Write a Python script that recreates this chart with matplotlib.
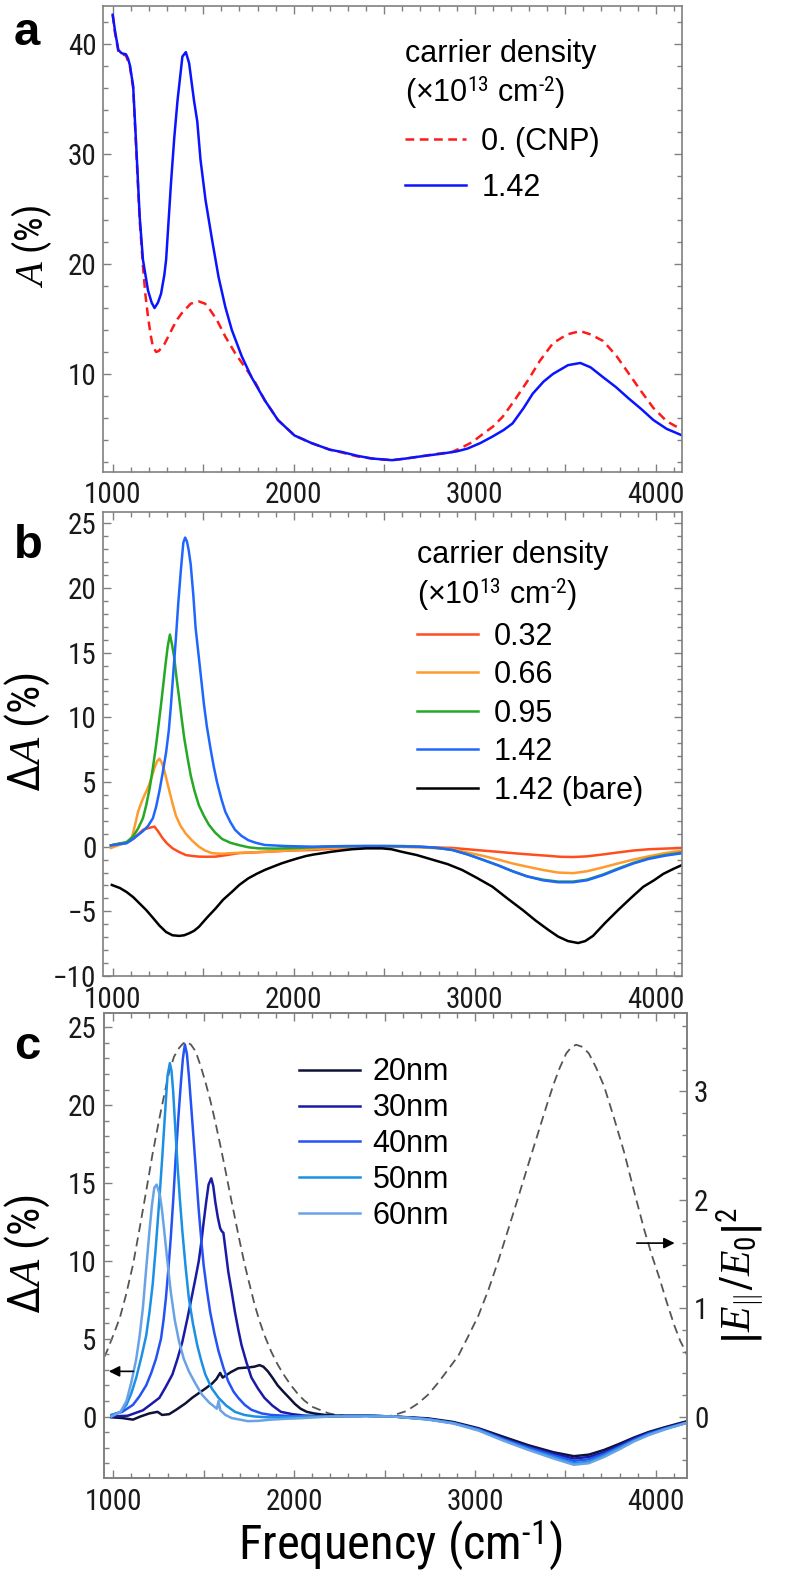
import matplotlib
matplotlib.use("Agg")
import matplotlib.pyplot as plt
from matplotlib import font_manager
from matplotlib.ticker import MultipleLocator, FuncFormatter

# pick a narrow sans for the axes text if one is installed
NARROW = None
for pref in ['Liberation Sans Narrow', 'Arial Narrow', 'Noto Sans Condensed', 'Roboto Condensed',
             'Open Sans Condensed']:
    if any(f.name == pref for f in font_manager.fontManager.ttflist):
        NARROW = pref
        break
if NARROW is None:
    for f in font_manager.fontManager.ttflist:
        if f.stretch == 'condensed' and f.style == 'normal' and 'Sans' in f.name:
            NARROW = f.name
            plt.rcParams['font.stretch'] = 'condensed'
            break

AX_FONT = [NARROW, 'Liberation Sans', 'DejaVu Sans'] if NARROW else ['Liberation Sans', 'DejaVu Sans']
K = 1.0 if NARROW else 0.84   # shrink sizes when only a regular-width font is available

plt.rcParams['font.family'] = AX_FONT
plt.rcParams['mathtext.fontset'] = 'custom'
plt.rcParams['mathtext.rm'] = AX_FONT[0]
plt.rcParams['mathtext.it'] = 'Liberation Serif:italic'

FRAME = '#808080'
TXT = '#1a1a1a'
LEG_FONT = ['Liberation Sans', 'DejaVu Sans']

# ---------------- panel a: absorption A (%) ----------------
a_freq_cnp = [1000, 1013, 1031, 1049, 1073, 1095, 1113, 1131, 1149, 1167, 1180, 1195, 1210, 1222,
              1240, 1255, 1285, 1310, 1331, 1358, 1385, 1431, 1476, 1510, 1531, 1576, 1622, 1676,
              1731, 1785, 1840, 1913, 2004, 2099, 2200, 2265, 2350, 2432, 2543, 2620, 2682, 2780,
              2876, 2940, 2987, 3050, 3100, 3154, 3220, 3293, 3360, 3432, 3510, 3583, 3640, 3709,
              3780, 3848, 3920, 3987, 4060, 4146]
a_cnp = [42.7, 41.0, 39.4, 39.1, 39.0, 38.0, 36.0, 30.0, 24.0, 19.8, 17.3, 15.2, 13.5, 12.5,
         12.0, 12.1, 12.7, 13.5, 14.2, 15.0, 15.6, 16.4, 16.6, 16.4, 16.0, 14.9, 13.4, 11.9,
         10.6, 9.3, 7.6, 5.8, 4.4, 3.7, 3.1, 2.85, 2.5, 2.3, 2.15, 2.3, 2.45, 2.7,
         2.9, 3.4, 3.8, 4.6, 5.2, 6.1, 7.6, 9.4, 11.2, 12.8, 13.6, 13.9, 13.6, 13.0,
         11.7, 10.1, 8.4, 6.9, 5.7, 4.9]

a_freq_142 = [1000, 1013, 1031, 1049, 1073, 1085, 1095, 1113, 1131, 1149, 1167, 1195, 1215, 1231,
              1250, 1267, 1285, 1295, 1322, 1340, 1358, 1385, 1404, 1422, 1449, 1467, 1485, 1513,
              1549, 1585, 1622, 1658, 1713, 1767, 1840, 1913, 2004, 2099, 2200, 2265, 2350, 2432,
              2543, 2620, 2682, 2821, 2900, 2959, 3030, 3098, 3160, 3209, 3270, 3320, 3380, 3432,
              3515, 3583, 3640, 3709, 3780, 3848, 3920, 3987, 4060, 4146]
a_142 = [42.7, 41.2, 39.5, 39.2, 39.1, 38.7, 38.1, 36.2, 30.4, 24.3, 20.4, 17.6, 16.5, 16.0,
         16.5, 17.3, 19.0, 20.4, 27.4, 31.5, 34.9, 38.9, 39.3, 38.3, 34.9, 33.0, 29.5, 25.8,
         22.2, 18.8, 16.1, 14.0, 11.6, 9.7, 7.6, 5.8, 4.4, 3.7, 3.1, 2.9, 2.55, 2.3,
         2.15, 2.3, 2.45, 2.75, 2.95, 3.2, 3.7, 4.3, 4.9, 5.5, 6.9, 8.2, 9.3, 10.0,
         10.8, 11.0, 10.6, 9.7, 8.8, 7.8, 6.8, 5.8, 5.0, 4.4]

# ---------------- panel b: delta A for carrier densities ----------------
b_labels = ['0.32', '0.66', '0.95', '1.42', '1.42 (bare)']
b_colors = ['#ff4d1f', '#ff9a2e', '#25a825', '#1f66ff', '#000000']

b_freq_032 = [990, 1040, 1076, 1113, 1140, 1167, 1200, 1231, 1250, 1276, 1300, 1331, 1365, 1404,
              1440, 1476, 1520, 1567, 1630, 1695, 1770, 1840, 1980, 2113, 2250, 2400, 2600, 2760,
              2876, 2960, 3042, 3130, 3209, 3300, 3400, 3470, 3543, 3620, 3709, 3790, 3876, 3960,
              4050, 4148]
b_032 = [0.1, 0.25, 0.3, 0.6, 0.95, 1.3, 1.45, 1.55, 1.2, 0.65, 0.25, -0.13, -0.4, -0.65,
         -0.72, -0.77, -0.78, -0.77, -0.65, -0.5, -0.45, -0.4, -0.3, -0.25, -0.12, -0.05, 0.0, -0.05,
         -0.1, -0.2, -0.3, -0.4, -0.5, -0.6, -0.7, -0.78, -0.8, -0.75, -0.6, -0.45, -0.3, -0.2,
         -0.15, -0.1]

b_freq_066 = [990, 1040, 1076, 1104, 1122, 1140, 1158, 1176, 1190, 1204, 1218, 1231, 1245, 1258,
              1271, 1285, 1299, 1313, 1331, 1349, 1375, 1404, 1440, 1476, 1510, 1549, 1600, 1658,
              1750, 1840, 1930, 2022, 2113, 2204, 2350, 2500, 2700, 2876, 2960, 3042, 3130, 3209,
              3290, 3376, 3460, 3543, 3620, 3709, 3790, 3876, 3960, 4050, 4148]
b_066 = [-0.1, 0.15, 0.3, 0.6, 1.6, 2.7, 3.4, 4.0, 4.4, 4.9, 5.5, 6.1, 6.6, 6.8,
         6.5, 5.9, 5.1, 4.3, 3.3, 2.4, 1.6, 1.0, 0.45, 0.0, -0.3, -0.5, -0.55, -0.5,
         -0.45, -0.4, -0.33, -0.25, -0.18, -0.1, -0.03, 0.0, -0.05, -0.2, -0.45, -0.7, -1.0, -1.3,
         -1.55, -1.8, -2.0, -2.05, -1.9, -1.6, -1.3, -1.0, -0.75, -0.5, -0.3]

b_freq_095 = [990, 1040, 1076, 1113, 1140, 1167, 1185, 1204, 1222, 1240, 1255, 1267, 1280, 1291,
              1304, 1316, 1328, 1340, 1353, 1367, 1381, 1395, 1413, 1431, 1452, 1476, 1503, 1531,
              1565, 1604, 1650, 1695, 1750, 1804, 1900, 2022, 2200, 2400, 2600, 2760, 2876, 2960,
              3042, 3130, 3209, 3290, 3376, 3460, 3543, 3620, 3709, 3790, 3876, 3960, 4050, 4148]
b_095 = [0.1, 0.25, 0.35, 0.8, 1.4, 2.2, 3.2, 4.5, 6.1, 7.9, 9.6, 11.0, 12.6, 14.0,
         15.5, 16.4, 15.6, 14.6, 13.0, 11.5, 9.9, 8.4, 6.9, 5.5, 4.3, 3.2, 2.4, 1.7,
         1.1, 0.6, 0.3, 0.13, -0.05, -0.13, -0.15, -0.1, 0.0, 0.05, 0.05, -0.05, -0.25, -0.6,
         -1.0, -1.45, -1.9, -2.3, -2.55, -2.7, -2.7, -2.55, -2.15, -1.7, -1.25, -0.9, -0.65, -0.45]

b_freq_142 = [990, 1040, 1076, 1113, 1140, 1167, 1195, 1222, 1240, 1258, 1276, 1295, 1310, 1322,
              1335, 1349, 1362, 1376, 1390, 1400, 1410, 1420, 1431, 1445, 1458, 1476, 1490, 1504,
              1520, 1540, 1558, 1576, 1600, 1622, 1650, 1676, 1710, 1749, 1790, 1840, 1950, 2100,
              2300, 2500, 2700, 2800, 2876, 2960, 3042, 3130, 3209, 3290, 3376, 3460, 3543, 3620,
              3709, 3790, 3876, 3960, 4050, 4148]
b_142 = [0.1, 0.2, 0.26, 0.6, 0.9, 1.2, 1.6, 2.2, 3.1, 4.3, 5.7, 7.3, 9.0, 11.0,
         13.5, 16.1, 18.8, 21.3, 23.5, 23.9, 23.6, 22.9, 21.8, 19.5, 16.9, 14.6, 12.8, 11.0,
         9.3, 7.6, 6.2, 5.0, 3.7, 2.7, 1.9, 1.3, 0.85, 0.5, 0.3, 0.13, 0.05, 0.0,
         0.05, 0.05, 0.0, -0.1, -0.26, -0.6, -1.0, -1.45, -1.9, -2.3, -2.6, -2.75, -2.75, -2.6,
         -2.2, -1.75, -1.3, -0.95, -0.7, -0.5]

b_freq_bare = [995, 1040, 1076, 1113, 1149, 1185, 1222, 1258, 1295, 1330, 1367, 1395, 1422, 1450,
               1476, 1520, 1567, 1610, 1658, 1700, 1749, 1795, 1840, 1885, 1931, 1975, 2022, 2068,
               2113, 2160, 2204, 2260, 2321, 2400, 2487, 2540, 2598, 2680, 2765, 2850, 2930, 3010,
               3098, 3180, 3265, 3335, 3403, 3460, 3515, 3571, 3610, 3653, 3720, 3792, 3860, 3931,
               3990, 4042, 4100, 4148]
b_bare = [-2.96, -3.2, -3.5, -3.9, -4.4, -4.9, -5.5, -6.1, -6.6, -6.85, -6.9, -6.85, -6.7, -6.5,
          -6.2, -5.5, -4.8, -4.1, -3.5, -2.95, -2.45, -2.1, -1.8, -1.55, -1.3, -1.1, -0.9, -0.72,
          -0.6, -0.5, -0.4, -0.3, -0.2, -0.13, -0.13, -0.2, -0.4, -0.65, -1.0, -1.35, -1.8, -2.4,
          -3.1, -4.0, -4.9, -5.7, -6.4, -6.95, -7.3, -7.45, -7.3, -6.9, -5.9, -4.9, -4.0, -3.1,
          -2.6, -2.1, -1.7, -1.4]

# ---------------- panel c: delta A for ribbon widths + field enhancement ----------------
c_labels = ['20nm', '30nm', '40nm', '50nm', '60nm']
c_colors = ['#0e1236', '#1a1aa6', '#2452f5', '#1c90e3', '#6aa2e6']

c_freq_20 = [990, 1050, 1109, 1150, 1200, 1245, 1270, 1309, 1350, 1400, 1436, 1473, 1510, 1545,
             1570, 1591, 1605, 1618, 1650, 1691, 1745, 1780, 1809, 1830, 1855, 1880, 1909, 1940,
             1973, 2005, 2036, 2070, 2109, 2170, 2236, 2400, 2550, 2741, 2880, 3019, 3157, 3297,
             3436, 3547, 3630, 3714, 3800, 3880, 3960, 4047, 4173]
c_20 = [-0.05, -0.1, -0.2, 0.0, 0.2, 0.3, 0.1, 0.15, 0.45, 0.85, 1.2, 1.5, 1.8, 2.1,
        2.4, 2.8, 2.5, 2.6, 2.85, 3.1, 3.15, 3.2, 3.3, 3.2, 2.9, 2.5, 2.0, 1.6,
        1.2, 0.8, 0.5, 0.3, 0.2, 0.1, 0.06, 0.05, 0.0, -0.12, -0.35, -0.75, -1.3, -1.85,
        -2.3, -2.55, -2.45, -2.15, -1.75, -1.35, -1.0, -0.7, -0.3]

c_freq_30 = [990, 1080, 1164, 1210, 1255, 1290, 1327, 1355, 1382, 1410, 1436, 1455, 1473, 1487,
             1500, 1514, 1527, 1542, 1553, 1564, 1578, 1591, 1600, 1609, 1622, 1636, 1655, 1673,
             1691, 1709, 1736, 1764, 1800, 1836, 1880, 1927, 1990, 2055, 2200, 2400, 2550, 2741,
             2880, 3019, 3157, 3297, 3436, 3547, 3630, 3714, 3800, 3880, 3960, 4047, 4173]
c_30 = [0.0, 0.05, 0.4, 0.8, 1.2, 1.9, 2.7, 3.7, 4.8, 6.3, 7.8, 8.9, 10.0, 11.2,
        12.5, 13.8, 14.9, 15.3, 14.8, 13.8, 12.8, 12.1, 11.9, 11.8, 10.6, 9.3, 8.0, 6.7,
        5.6, 4.6, 3.5, 2.5, 1.8, 1.2, 0.7, 0.3, 0.15, 0.06, 0.0, 0.05, 0.0, -0.15,
        -0.4, -0.8, -1.4, -1.95, -2.4, -2.7, -2.6, -2.3, -1.85, -1.4, -1.05, -0.75, -0.35]

c_freq_40 = [990, 1050, 1109, 1145, 1182, 1210, 1236, 1264, 1278, 1291, 1305, 1318, 1332, 1345,
             1360, 1373, 1385, 1396, 1407, 1418, 1431, 1445, 1460, 1473, 1487, 1500, 1518, 1536,
             1560, 1582, 1610, 1636, 1665, 1691, 1727, 1764, 1820, 1873, 2018, 2200, 2400, 2550,
             2741, 2880, 3019, 3157, 3297, 3436, 3547, 3630, 3714, 3800, 3880, 3960, 4047, 4173]
c_40 = [0.1, 0.3, 0.75, 1.3, 2.0, 2.8, 3.7, 5.0, 6.2, 7.6, 9.5, 11.5, 14.0, 16.6,
        19.2, 21.3, 23.0, 23.9, 23.3, 21.9, 19.9, 17.7, 15.3, 13.2, 11.3, 9.7, 8.1, 6.7,
        5.3, 4.2, 3.1, 2.25, 1.6, 1.2, 0.75, 0.43, 0.2, 0.1, 0.0, 0.0, 0.05, 0.0,
        -0.18, -0.42, -0.82, -1.45, -2.0, -2.5, -2.85, -2.75, -2.4, -1.95, -1.5, -1.1, -0.8, -0.4]

c_freq_50 = [990, 1040, 1073, 1100, 1127, 1155, 1182, 1200, 1218, 1236, 1255, 1270, 1282, 1292,
             1300, 1313, 1322, 1331, 1343, 1355, 1368, 1382, 1400, 1418, 1440, 1464, 1486, 1509,
             1545, 1582, 1625, 1673, 1725, 1782, 1850, 1909, 2050, 2200, 2400, 2550, 2741, 2880,
             3019, 3157, 3297, 3436, 3547, 3630, 3714, 3800, 3880, 3960, 4047, 4173]
c_50 = [0.1, 0.3, 0.75, 1.5, 2.5, 3.8, 5.2, 6.7, 8.5, 11.0, 14.0, 16.5, 18.7, 20.5,
        21.9, 22.7, 22.2, 20.9, 18.5, 16.2, 14.0, 11.9, 9.6, 7.6, 6.0, 4.6, 3.6, 2.7,
        1.8, 1.2, 0.7, 0.3, 0.1, 0.0, -0.05, -0.05, 0.0, 0.0, 0.05, 0.0, -0.18, -0.42,
        -0.85, -1.5, -2.1, -2.6, -3.0, -2.9, -2.5, -2.0, -1.55, -1.15, -0.8, -0.4]

c_freq_60 = [990, 1040, 1073, 1100, 1127, 1146, 1164, 1182, 1200, 1214, 1227, 1240, 1258, 1270,
             1282, 1300, 1318, 1340, 1364, 1390, 1418, 1455, 1491, 1530, 1573, 1582, 1592, 1620,
             1655, 1700, 1745, 1800, 1873, 1950, 2050, 2200, 2400, 2550, 2741, 2880, 3019, 3157,
             3297, 3436, 3547, 3630, 3714, 3800, 3880, 3960, 4047, 4173]
c_60 = [0.0, 0.3, 1.0, 2.2, 3.7, 5.2, 7.0, 9.5, 11.9, 13.6, 14.7, 14.9, 14.2, 13.2,
        11.9, 9.9, 8.0, 6.2, 4.8, 3.7, 2.9, 2.1, 1.4, 0.9, 0.5, 1.0, 0.4, 0.1,
        -0.1, -0.2, -0.3, -0.28, -0.2, -0.15, -0.1, 0.0, 0.0, 0.0, -0.2, -0.45, -0.9, -1.55,
        -2.15, -2.7, -3.1, -3.0, -2.6, -2.1, -1.6, -1.2, -0.85, -0.4]

# |E_par/E0|^2 (right axis)
c_freq_field = [950, 964, 1000, 1036, 1070, 1109, 1145, 1182, 1218, 1255, 1282, 1309, 1336, 1364,
                1385, 1404, 1430, 1455, 1482, 1509, 1536, 1564, 1591, 1618, 1645, 1673, 1700, 1727,
                1755, 1782, 1809, 1836, 1873, 1909, 1945, 1982, 2020, 2055, 2100, 2145, 2190, 2236,
                2300, 2345, 2400, 2450, 2500, 2546, 2620, 2685, 2740, 2796, 2850, 2908, 2960, 3019,
                3075, 3130, 3185, 3241, 3296, 3352, 3395, 3436, 3470, 3505, 3535, 3560, 3595, 3630,
                3670, 3714, 3770, 3825, 3880, 3937, 3980, 4020, 4060, 4103, 4135, 4159, 4173]
c_field = [0.55, 0.6, 0.75, 0.91, 1.12, 1.4, 1.73, 2.08, 2.43, 2.75, 2.97, 3.18, 3.32, 3.40,
           3.44, 3.46, 3.43, 3.37, 3.24, 3.09, 2.92, 2.72, 2.51, 2.29, 2.06, 1.83, 1.61, 1.40,
           1.21, 1.03, 0.88, 0.75, 0.6, 0.48, 0.38, 0.29, 0.21, 0.15, 0.09, 0.06, 0.03, 0.015,
           0.003, 0.0, 0.0, 0.0, 0.0, 0.01, 0.05, 0.12, 0.2, 0.31, 0.43, 0.56, 0.73, 0.93,
           1.17, 1.44, 1.73, 2.03, 2.33, 2.63, 2.86, 3.07, 3.22, 3.35, 3.41, 3.43, 3.41, 3.35,
           3.22, 3.05, 2.75, 2.44, 2.08, 1.72, 1.48, 1.28, 1.06, 0.84, 0.7, 0.62, 0.57]

TICK_SIZE = 21 * K


def style_axes(ax, xlim, ylim, ymaj, ymin, right=True):
    ax.set_xlim(*xlim)
    ax.set_ylim(*ylim)
    ax.xaxis.set_major_locator(MultipleLocator(500))
    ax.xaxis.set_minor_locator(MultipleLocator(100))
    ax.xaxis.set_major_formatter(FuncFormatter(lambda v, p: '%d' % v if v % 1000 == 0 else ''))
    ax.yaxis.set_major_locator(MultipleLocator(ymaj))
    ax.yaxis.set_minor_locator(MultipleLocator(ymin))
    ax.tick_params(which='both', direction='in', top=True, right=right,
                   color=FRAME, labelcolor=TXT, labelsize=TICK_SIZE, width=1)
    ax.tick_params(which='major', length=6)
    ax.tick_params(which='minor', length=3.5)
    ax.tick_params(axis='x', pad=7)
    ax.tick_params(axis='y', pad=5)
    for s in ax.spines.values():
        s.set_color(FRAME)
        s.set_linewidth(1.2)


fig = plt.figure(figsize=(7.89, 15.73), dpi=100)
W, H = 789.0, 1573.0


def px_axes(left, top, right, bottom):
    return fig.add_axes([left / W, 1 - bottom / H, (right - left) / W, (bottom - top) / H])


title_txt = 'carrier density\n(\u00d710$^{13}$ cm$^{\u20102}$)'

# ---- panel a ----
ax_a = px_axes(103.3, 6, 682.4, 471.7)
ax_a.plot(a_freq_cnp, a_cnp, color='#ff1a1a', lw=1.8, ls=(0, (3.5, 2.2)), label='0. (CNP)')
ax_a.plot(a_freq_142, a_142, color='#0a14ff', lw=1.8, label='1.42')
style_axes(ax_a, (948, 4147), (1.1, 43.5), 10, 2)
ax_a.set_ylabel('$A$ (%)', fontsize=28 * K)
ax_a.yaxis.set_label_coords(-0.085, 0.485)
leg = ax_a.legend(loc='upper left', bbox_to_anchor=(0.521, 0.93), frameon=False,
                  title=title_txt, alignment='left', borderaxespad=0, borderpad=0,
                  handlelength=2.0, handletextpad=0.5, labelspacing=0.52,
                  prop={'family': LEG_FONT, 'size': 22})
leg.get_title().set_fontfamily(LEG_FONT)
leg.get_title().set_fontsize(22)

# ---- panel b ----
ax_b = px_axes(103.3, 511.7, 682.4, 976)
for fr, vals, lab, col in zip([b_freq_032, b_freq_066, b_freq_095, b_freq_142, b_freq_bare],
                              [b_032, b_066, b_095, b_142, b_bare], b_labels, b_colors):
    ax_b.plot(fr, vals, color=col, lw=1.8, label=lab)
style_axes(ax_b, (948, 4147), (-10, 25.9), 5, 1)
ax_b.set_ylabel('$\\Delta A$ (%)', fontsize=32 * K)
ax_b.yaxis.set_label_coords(-0.089, 0.525)
leg = ax_b.legend(loc='upper left', bbox_to_anchor=(0.542, 0.938), frameon=False,
                  title=title_txt, alignment='left', borderaxespad=0, borderpad=0,
                  handlelength=2.0, handletextpad=0.5, labelspacing=0.28,
                  prop={'family': LEG_FONT, 'size': 22})
leg.get_title().set_fontfamily(LEG_FONT)
leg.get_title().set_fontsize(22)

# ---- panel c ----
ax_c = px_axes(103.7, 1013.3, 687, 1478)
ax_c2 = ax_c.twinx()
ax_c2.plot(c_freq_field, c_field, color='#555555', lw=1.3, ls=(0, (5, 3)))
for fr, vals, lab, col in zip([c_freq_20, c_freq_30, c_freq_40, c_freq_50, c_freq_60],
                              [c_20, c_30, c_40, c_50, c_60], c_labels, c_colors):
    ax_c.plot(fr, vals, color=col, lw=1.8, label=lab)
style_axes(ax_c, (947, 4173), (-3.95, 25.9), 5, 1, right=False)
ax_c2.set_ylim(-0.567, 3.72)
ax_c2.yaxis.set_major_locator(MultipleLocator(1))
ax_c2.yaxis.set_minor_locator(MultipleLocator(0.2))
ax_c2.tick_params(which='both', direction='in', color=FRAME, labelcolor=TXT,
                  labelsize=TICK_SIZE, width=1, pad=5)
ax_c2.tick_params(which='major', length=6)
ax_c2.tick_params(which='minor', length=3.5)
for s in ax_c2.spines.values():
    s.set_color(FRAME)
    s.set_linewidth(1.2)
ax_c.set_zorder(ax_c2.get_zorder() + 1)
ax_c.patch.set_visible(False)

ax_c.set_ylabel('$\\Delta A$ (%)', fontsize=32 * K)
ax_c.yaxis.set_label_coords(-0.089, 0.483)
ax_c2.set_ylabel('$\\left|E_{\\Vert}/E_{0}\\right|^{2}$', fontsize=30)
ax_c2.yaxis.set_label_coords(1.047, 0.435)
ax_c.set_xlabel('Frequency (cm$^{\u20101}$)', fontsize=35 * K)
ax_c.xaxis.set_label_coords(0.508, -0.086)
ax_c.legend(loc='upper left', bbox_to_anchor=(0.335, 0.905), frameon=False,
            borderaxespad=0, borderpad=0, handlelength=2.0, handletextpad=0.4,
            labelspacing=0.19, prop={'family': LEG_FONT, 'size': 22})

# arrows pointing to the axis each curve belongs to
ax_c.annotate('', xy=(960, 2.9), xytext=(1127, 2.9),
              arrowprops=dict(arrowstyle='-|>', color='black', lw=1.2, mutation_scale=16))
ax_c2.annotate('', xy=(4120, 1.6), xytext=(3880, 1.6),
               arrowprops=dict(arrowstyle='-|>', color='black', lw=1.2, mutation_scale=16))

# panel letters
for letter, ybase in zip(['a', 'b', 'c'], [45, 558, 1059]):
    fig.text(14 / W, 1 - ybase / H, letter, fontsize=34, fontweight='bold',
             family=['Liberation Sans', 'DejaVu Sans'], va='baseline', ha='left')

fig.savefig('out.png', dpi=100)
